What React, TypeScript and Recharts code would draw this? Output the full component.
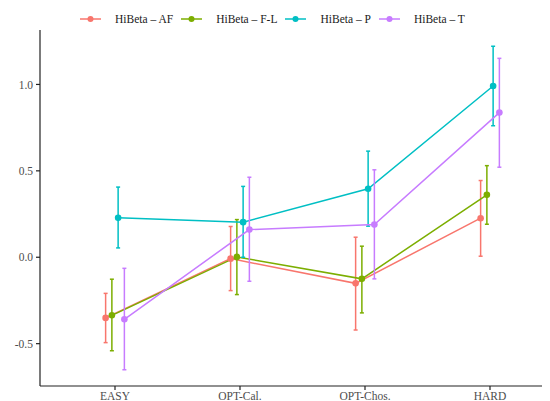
import React from "react";
import { LineChart, Line, XAxis, YAxis, ErrorBar } from "recharts";

const categories = ["EASY", "OPT-Cal.", "OPT-Chos.", "HARD"];
const seriesNames = ["HiBeta \u2013 AF", "HiBeta \u2013 F-L", "HiBeta \u2013 P", "HiBeta \u2013 T"];
const COLORS = ["#F8766D", "#7CAE00", "#00BFC4", "#C77CFF"];

// mean per category, for each series
const means = [
  [-0.351, -0.008, -0.151, 0.226],
  [-0.336, 0.002, -0.125, 0.361],
  [0.228, 0.203, 0.396, 0.991],
  [-0.359, 0.16, 0.189, 0.837]
];
const lows = [
  [-0.494, -0.193, -0.421, 0.006],
  [-0.541, -0.216, -0.322, 0.191],
  [0.054, 0.0, 0.18, 0.761],
  [-0.651, -0.139, -0.125, 0.521]
];
const highs = [
  [-0.209, 0.178, 0.116, 0.444],
  [-0.127, 0.218, 0.064, 0.53],
  [0.406, 0.41, 0.614, 1.221],
  [-0.064, 0.463, 0.506, 1.151]
];

const yTicks = [-0.5, 0, 0.5, 1];
const dodge = 0.05;

const FAMILY = "'Liberation Serif', 'Times New Roman', 'DejaVu Serif', serif";
const font = { fontFamily: FAMILY, fontSize: 11.5, fill: "#4D4D4D" };

const App: React.FC = () => {
  // dodged x positions, one dataset per series
  const seriesData = seriesNames.map((_, s) =>
    categories.map((c, i) => ({
      x: i + (s - 1.5) * dodge,
      y: means[s][i],
      err: [means[s][i] - lows[s][i], highs[s][i] - means[s][i]]
    }))
  );

  return (
    <div style={{ position: "relative", width: 542, height: 393, overflow: "hidden" }}>
      <div
        style={{
          position: "absolute",
          top: 4,
          left: 72,
          display: "flex",
          alignItems: "center",
          fontFamily: FAMILY,
          fontSize: 11.5,
          color: "#1a1a1a",
          zIndex: 2
        }}
      >
        {seriesNames.map((name, s) => (
          <div key={name} style={{ display: "flex", alignItems: "center", marginRight: 8 }}>
            <svg width={21} height={14} style={{ marginRight: 14 }}>
              <line x1={0} y1={7} x2={21} y2={7} stroke={COLORS[s]} strokeWidth={1.5} />
              <circle cx={10.5} cy={7} r={3} fill={COLORS[s]} />
            </svg>
            <span>{name}</span>
          </div>
        ))}
      </div>
      <LineChart width={562} height={408} margin={{ top: 22, right: 5, left: 0, bottom: 0 }}>
        <XAxis
          type="number"
          dataKey="x"
          domain={[-0.6, 3.6]}
          ticks={[0, 1, 2, 3]}
          tickFormatter={(v: number) => categories[Math.round(v)]}
          allowDataOverflow
          height={30}
          tickSize={4}
          tickMargin={2}
          tick={font}
          stroke="#222"
          strokeWidth={1.2}
        />
        <YAxis
          type="number"
          domain={[-0.745, 1.315]}
          ticks={yTicks}
          tickFormatter={(v: number) => v.toFixed(1)}
          allowDataOverflow
          width={32}
          tickSize={4}
          tickMargin={3}
          tick={font}
          stroke="#222"
          strokeWidth={1.2}
        />
        {seriesNames.map((name, s) => (
          <Line
            key={name}
            data={seriesData[s]}
            dataKey="y"
            name={name}
            stroke={COLORS[s]}
            strokeWidth={1.5}
            dot={{ r: 3.3, fill: COLORS[s], stroke: COLORS[s], strokeWidth: 0 }}
            activeDot={false}
            isAnimationActive={false}
          >
            <ErrorBar
              dataKey="err"
              width={2}
              stroke={COLORS[s]}
              strokeWidth={1.5}
              direction="y"
              isAnimationActive={false}
            />
          </Line>
        ))}
      </LineChart>
    </div>
  );
};

export default App;
